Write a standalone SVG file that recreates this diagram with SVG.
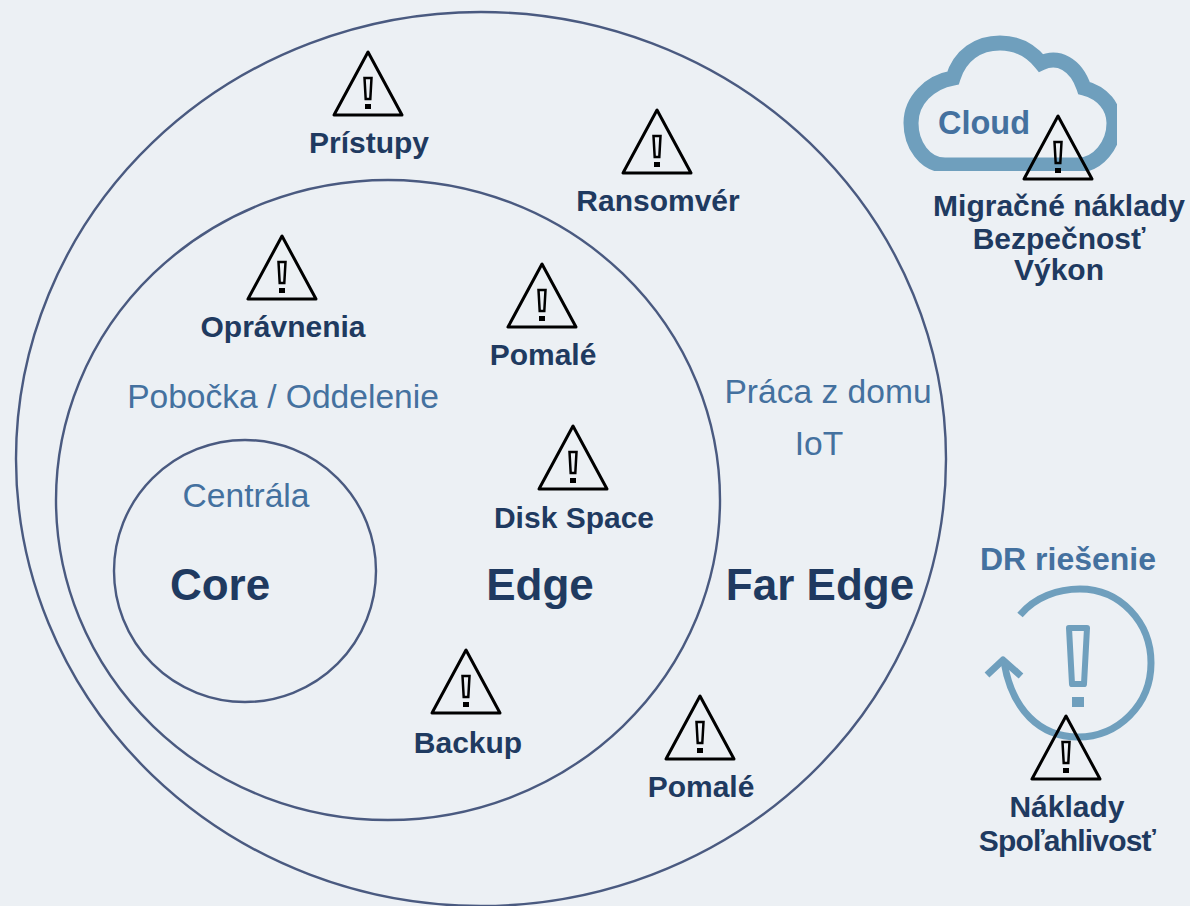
<svg xmlns="http://www.w3.org/2000/svg" width="1190" height="906" viewBox="0 0 1190 906">
<style>
text{font-family:"Liberation Sans",Arial,sans-serif;text-anchor:middle}
.ring{fill:none;stroke:#4a5a80;stroke-width:2.4}
.b{font-weight:700;font-size:30px;fill:#1f3a60}
.big{font-weight:700;font-size:44px;fill:#1f3a60}
.l{font-size:33.600px;fill:#44719f}
.lb{font-weight:700;font-size:32px;fill:#44719f}
.tri{fill:none;stroke:#000;stroke-width:3;stroke-linejoin:round}
.ex{fill:none;stroke:#000;stroke-width:2.500}
.ic{fill:none;stroke:#6f9fbd}
</style>
<defs>
<g id="warn">
<path class="tri" d="M0 0L-34 63H34Z"/>
<path class="ex" d="M-3.500 26H3.500L2.300 47H-2.300Z"/>
<rect x="-3" y="52" width="6" height="5"/>
</g>
<clipPath id="cloudClip"><rect x="890" y="35" width="227" height="136"/></clipPath>
<clipPath id="drClip"><rect x="970" y="585" width="185" height="160"/></clipPath>
</defs>
<rect width="1190" height="906" fill="#ecf0f4"/>
<g id="rings">
<ellipse id="far-edge" class="ring" cx="481" cy="459" rx="465" ry="447"/>
<ellipse id="edge" class="ring" cx="388" cy="500" rx="332" ry="320"/>
<circle id="core" class="ring" cx="245" cy="571" r="131"/>
</g>
<g id="connectors"/>
<g id="cloud-icon">
<path class="ic" clip-path="url(#cloudClip)" stroke-width="15" d="M945 165C925 165 911 145 911 123C911 100 930 82 953 78C960 55 978 43 1000 43C1020 43 1032 52 1041 63C1058 55 1076 64 1084 88C1103 93 1114 107 1114 123C1114 145 1098 165 1078 165Z"/>
<text class="lb" x="984" y="134" style="font-size:32.500px">Cloud</text>
</g>
<g id="dr-icon">
<text class="lb" x="1068" y="570">DR riešenie</text>
<g clip-path="url(#drClip)">
<path class="ic" stroke-width="7" d="M1020 615C1035 597 1058 589 1080 589C1120 589 1151 622 1151 663C1151 705 1118 737 1078 737C1040 737 1012 710 1004 662"/>
<path class="ic" stroke-width="7" stroke-linejoin="round" d="M987 675L1003 660L1021 676"/>
<path class="ic" stroke-width="6" d="M1069 628H1087L1084 684H1072Z" stroke-linejoin="round"/>
<rect x="1072" y="697" width="12" height="10" fill="#6f9fbd"/>
</g>
</g>
<g id="n-pristupy"><use href="#warn" x="368" y="52"/><text class="b" x="369" y="153">Prístupy</text></g>
<g id="n-ransomver"><use href="#warn" x="657" y="110"/><text class="b" x="658" y="211">Ransomvér</text></g>
<g id="n-opravnenia"><use href="#warn" x="282" y="236"/><text class="b" x="283" y="337">Oprávnenia</text></g>
<g id="n-pomale1"><use href="#warn" x="542" y="264"/><text class="b" x="543" y="365">Pomalé</text></g>
<g id="n-disk"><use href="#warn" x="573" y="426"/><text class="b" x="574" y="528">Disk Space</text></g>
<g id="n-backup"><use href="#warn" x="466" y="650"/><text class="b" x="468" y="753">Backup</text></g>
<g id="n-pomale2"><use href="#warn" x="700" y="696"/><text class="b" x="701" y="797">Pomalé</text></g>
<g id="n-cloud"><use href="#warn" x="1058" y="116"/><text class="b" x="1059" y="216">Migračné náklady</text><text class="b" x="1059" y="249">Bezpečnosť</text><text class="b" x="1059" y="280">Výkon</text></g>
<g id="n-dr"><use href="#warn" x="1066" y="716"/><text class="b" x="1067" y="817">Náklady</text><text class="b" x="1067" y="851" letter-spacing="-0.800">Spoľahlivosť</text></g>
<text class="l" x="283" y="408">Pobočka / Oddelenie</text>
<text class="l" x="828" y="403">Práca z domu</text>
<text class="l" x="819" y="455">IoT</text>
<text class="l" x="246" y="507">Centrála</text>
<text class="big" x="220" y="600">Core</text>
<text class="big" x="540" y="600">Edge</text>
<text class="big" x="820" y="600">Far Edge</text>
</svg>
